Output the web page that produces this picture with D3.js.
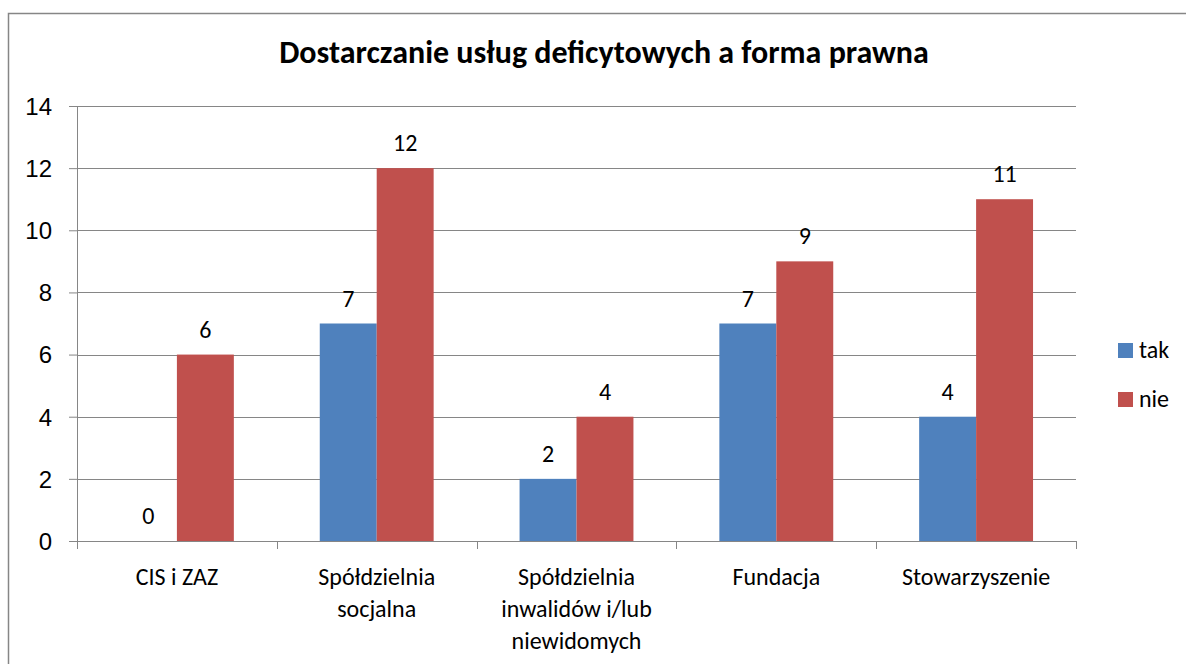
<!DOCTYPE html>
<meta charset="utf-8">
<style>
body { margin: 0; background: #fff; }
svg { font-family: Carlito, Calibri, Lato, "Open Sans", sans-serif; }
.grid line { stroke: #868686; stroke-width: 1px; }
.axis path, .axis line { stroke: #868686; }
.axis text { fill: #000; font-size: 24px; }
</style>
<svg width="1186" height="664"></svg>
<script src="https://cdn.jsdelivr.net/npm/d3@7"></script>
<script>

var categories = [["CIS i ZAZ"], ["Spółdzielnia", "socjalna"], ["Spółdzielnia", "inwalidów i/lub", "niewidomych"], ["Fundacja"], ["Stowarzyszenie"]];
var seriesNames = ["tak", "nie"];
var tak = [0, 7, 2, 7, 4];
var nie = [6, 12, 4, 9, 11];
var yTicks = [0, 2, 4, 6, 8, 10, 12, 14];
var colors = ["#4F81BD", "#C0504D"];

var svg = d3.select("svg"),
    margin = {top: 106, left: 77, right: 110, bottom: 123},
    width = 1186 - margin.left - margin.right,
    height = 664 - margin.top - margin.bottom;

// outer frame
svg.append("rect")
    .attr("x", 8.5).attr("y", 13.5)
    .attr("width", 1190).attr("height", 700)
    .attr("fill", "none").attr("stroke", "#868686").attr("stroke-width", 1.5);

svg.append("text")
    .attr("x", 604).attr("y", 63)
    .attr("text-anchor", "middle")
    .style("font-size", "32px").style("font-weight", "bold")
    .text("Dostarczanie usług deficytowych a forma prawna");

var g = svg.append("g").attr("transform", "translate(" + margin.left + "," + margin.top + ")");

var x = d3.scaleBand().domain(d3.range(categories.length)).range([0, width]);
var y = d3.scaleLinear().domain([0, 14]).range([height, 0]);
var barW = x.bandwidth() * 0.285;

g.append("g").attr("class", "grid")
  .selectAll("line").data(yTicks.slice(1)).enter().append("line")
    .attr("x1", 0).attr("x2", width)
    .attr("y1", function(d) { return Math.round(y(d)) + 0.5; })
    .attr("y2", function(d) { return Math.round(y(d)) + 0.5; });

var yAxis = g.append("g").attr("class", "axis")
    .call(d3.axisLeft(y).tickValues(yTicks).tickSize(8).tickPadding(17));
yAxis.selectAll("text").attr("dy", "0.35em");

var xAxis = g.append("g").attr("class", "axis")
    .attr("transform", "translate(0," + height + ")");
xAxis.append("line").attr("x1", 0).attr("x2", width).attr("y1", 0.5).attr("y2", 0.5).attr("stroke", "#868686");
xAxis.selectAll(".tk").data(d3.range(categories.length + 1)).enter().append("line")
    .attr("x1", function(d) { return Math.round(d * x.step()) + 0.5; })
    .attr("x2", function(d) { return Math.round(d * x.step()) + 0.5; })
    .attr("y1", 0).attr("y2", 8);
xAxis.selectAll(".lbl").data(categories).enter().append("text")
    .attr("text-anchor", "middle")
    .attr("transform", function(d, i) { return "translate(" + (x(i) + x.bandwidth() / 2) + ",0)"; })
    .each(function(d) {
      var t = d3.select(this);
      d.forEach(function(line, k) {
        t.append("tspan").attr("x", 0).attr("y", 44 + k * 32).text(line);
      });
    });

var series = [tak, nie];
series.forEach(function(vals, s) {
  var grp = g.append("g");
  grp.selectAll("rect").data(vals).enter().append("rect")
      .attr("x", function(d, i) { return x(i) + x.bandwidth() / 2 - barW + s * barW; })
      .attr("y", function(d) { return y(d); })
      .attr("width", barW)
      .attr("height", function(d) { return height - y(d); })
      .attr("fill", colors[s]);
  grp.selectAll("text").data(vals).enter().append("text")
      .attr("x", function(d, i) { return x(i) + x.bandwidth() / 2 - barW + s * barW + barW / 2; })
      .attr("y", function(d) { return y(d) - 17; })
      .attr("text-anchor", "middle")
      .style("font-size", "24px")
      .text(function(d) { return d; });
});

var legend = svg.append("g").attr("transform", "translate(1118,343)");
seriesNames.forEach(function(n, i) {
  legend.append("rect").attr("x", 0).attr("y", i * 49).attr("width", 15).attr("height", 15).attr("fill", colors[i]);
  legend.append("text").attr("x", 21).attr("y", i * 49 + 15).style("font-size", "24px").text(n);
});
</script>
